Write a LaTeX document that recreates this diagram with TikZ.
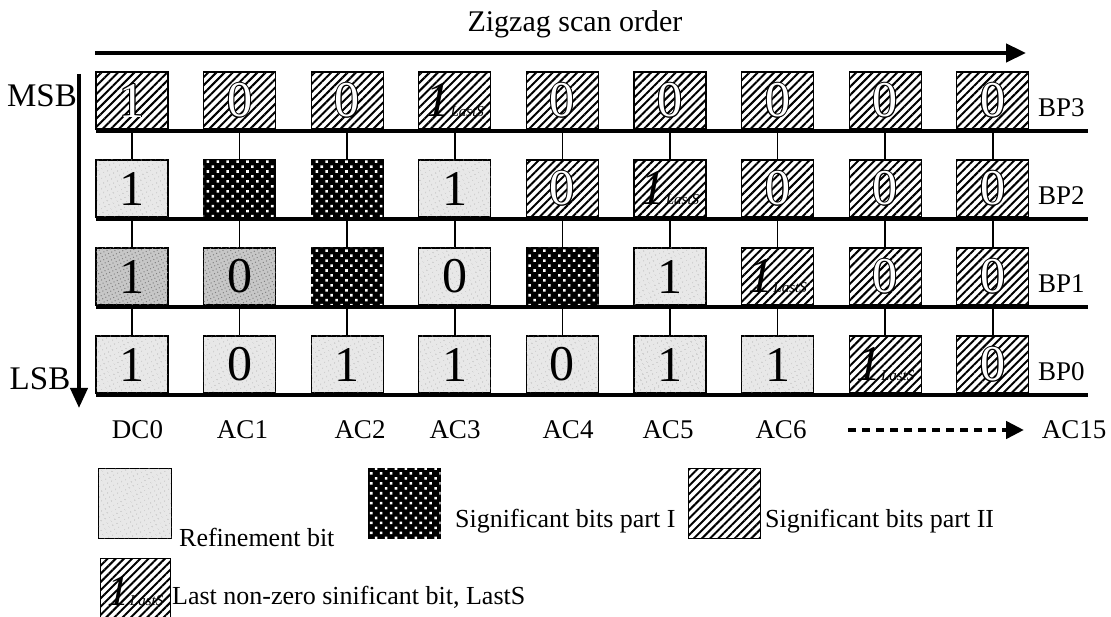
\documentclass[tikz,border=0pt]{standalone}
\usepackage{fontspec}
\setmainfont{Liberation Serif}
\usetikzlibrary{patterns.meta,arrows.meta}
\newcommand\lastsbit{{\itshape 1}{\fontsize{15}{15}\selectfont\itshape LastS}}
\newcommand\hol[1]{\leavevmode
  \rlap{\hspace{-1pt}#1}\rlap{\hspace{1pt}#1}%
  \rlap{\raisebox{1pt}{#1}}\rlap{\raisebox{-1pt}{#1}}%
  \rlap{\hspace{-0.7pt}\raisebox{0.7pt}{#1}}\rlap{\hspace{0.7pt}\raisebox{0.7pt}{#1}}%
  \rlap{\hspace{-0.7pt}\raisebox{-0.7pt}{#1}}\rlap{\hspace{0.7pt}\raisebox{-0.7pt}{#1}}%
  \textcolor{white}{#1}}
\begin{document}
\begin{tikzpicture}[x=1pt,y=-1pt,
  cell/.style={draw=black,line width=1.3pt,minimum width=72pt,minimum height=57pt,inner sep=0pt,font=\fontsize{50}{50}\selectfont},
  hb/.style={cell,fill=white,postaction={pattern={Lines[angle=45,distance=5.8pt,line width=2pt]},pattern color=black}},
  rb/.style={cell,fill=black!9,postaction={pattern={Dots[radius=0.55pt,distance=4pt,angle=25]},pattern color=black!35}},
  rdb/.style={cell,fill=black!22,postaction={pattern={Dots[radius=0.7pt,distance=3.5pt,angle=25]},pattern color=black!50}},
  db/.style={cell,fill=black,postaction={pattern={Dots[radius=1.8pt,distance=7pt,angle=45]},pattern color=white}},
  lab/.style={font=\fontsize{27}{27}\selectfont,inner sep=0pt},
  leg/.style={font=\fontsize{26}{26}\selectfont,inner sep=0pt},
  plane/.style={line width=4pt},
  link/.style={line width=1.5pt},
  bigarrow/.style={line width=4.5pt,-{Triangle[length=20pt,width=18pt]}},
]
\useasboundingbox (0,0) rectangle (1111,617);

% title and scan-order arrow
\node[font=\fontsize{30}{30}\selectfont,inner sep=0pt,anchor=base] (title) at (575,32) {Zigzag scan order};
\coordinate (zs) at (95,53);
\coordinate (ze) at (1026,53);
\draw[bigarrow] (zs) -- (ze);

% MSB / LSB
\node[font=\fontsize{33}{33}\selectfont,inner sep=0pt,anchor=base] (msb) at (42,107) {MSB};
\node[font=\fontsize{33}{33}\selectfont,inner sep=0pt,anchor=base] (lsb) at (40,390) {LSB};
\coordinate (vs) at (79,74);
\coordinate (ve) at (79,408);
\draw[line width=4pt,-{Triangle[length=20pt,width=17pt]}] (vs) -- (ve);

% bit-plane lines
\foreach \r/\ly in {0/131,1/219,2/307,3/395}{
  \coordinate (ls\r) at (96,\ly);
  \coordinate (le\r) at (1088,\ly);
  \draw[plane] (ls\r) -- (le\r);
}

% cells
\foreach \r/\yy/\cells in {
  0/100.5/{hb/\hol{1},hb/\hol{0},hb/\hol{0},hb/\lastsbit,hb/\hol{0},hb/\hol{0},hb/\hol{0},hb/\hol{0},hb/\hol{0}},
  1/188.5/{rb/1,db/,db/,rb/1,hb/\hol{0},hb/\lastsbit,hb/\hol{0},hb/\hol{0},hb/\hol{0}},
  2/276.5/{rdb/1,rdb/0,db/,rb/0,db/,rb/1,hb/\lastsbit,hb/\hol{0},hb/\hol{0}},
  3/364.5/{rb/1,rb/0,rb/1,rb/1,rb/0,rb/1,rb/1,hb/\lastsbit,hb/\hol{0}}}{
  \foreach [count=\c from 0] \s/\t in \cells {
    \node[\s] (b\r\c) at ({132+107.6*\c},\yy) {\t};
  }
}

% links between planes
\foreach \c in {0,...,8}{
  \foreach \r/\n in {0/1,1/2,2/3}{
    \draw[link] (b\r\c.south) -- (b\n\c.north);
  }
}

% plane labels
\node[lab,anchor=base west] (bp3) at (1038,117) {BP3};
\node[lab,anchor=base west] (bp2) at (1038,205) {BP2};
\node[lab,anchor=base west] (bp1) at (1038,293) {BP1};
\node[lab,anchor=base west] (bp0) at (1038,381) {BP0};

% coefficient labels
\node[lab,anchor=base] (dc0) at (137.5,438) {DC0};
\node[lab,anchor=base] (ac1) at (242.5,438) {AC1};
\node[lab,anchor=base] (ac2) at (360,438) {AC2};
\node[lab,anchor=base] (ac3) at (455,438) {AC3};
\node[lab,anchor=base] (ac4) at (568,438) {AC4};
\node[lab,anchor=base] (ac5) at (668,438) {AC5};
\node[lab,anchor=base] (ac6) at (781,438) {AC6};
\node[lab,anchor=base] (ac15) at (1074,438) {AC15};
\coordinate (ds) at (848,430);
\coordinate (de) at (1024,430);
\draw[line width=4.5pt,dash pattern=on 8pt off 6pt,-{Triangle[length=18pt,width=17pt]}] (ds) -- (de);

% legend
\node[rb,minimum width=73pt,minimum height=70pt,anchor=north west] (lr) at (98,468) {};
\node[leg,anchor=base west] (lrt) at (179,546) {Refinement bit};
\node[db,minimum width=72pt,minimum height=70pt,anchor=north west] (ld) at (368,468) {};
\node[leg,anchor=base west] (ldt) at (455,527) {Significant bits part I};
\node[hb,minimum width=72pt,minimum height=70pt,anchor=north west] (lh) at (688,468) {};
\node[leg,anchor=base west] (lht) at (765,527) {Significant bits part II};
\node[hb,minimum width=70pt,minimum height=64pt,anchor=north west,font=\fontsize{44}{44}\selectfont] (ll) at (100,558) {\lastsbit};
\node[leg,anchor=base west] (llt) at (172,604) {Last non-zero sinificant bit, LastS};
\end{tikzpicture}
\end{document}
